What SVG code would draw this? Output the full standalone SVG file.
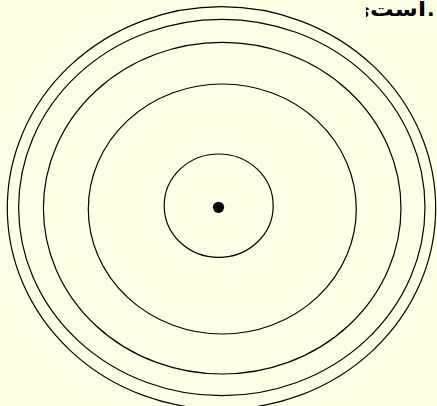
<svg xmlns="http://www.w3.org/2000/svg" width="437" height="406" viewBox="0 0 437 406">
  <style>
    .ring { fill: none; stroke: #000; stroke-width: 1.2; }
    .label { font-family: "DejaVu Sans", "Liberation Sans", sans-serif; font-weight: bold; font-size: 20px; fill: #000; }
  </style>
  <defs>
    <clipPath id="textClip">
      <rect x="366" y="0" width="71" height="30"/>
    </clipPath>
  </defs>
  <rect x="0" y="0" width="437" height="406" fill="#FFFFE6"/>
  <g id="text-top" clip-path="url(#textClip)">
    <text class="label" x="370" y="16" text-anchor="end">ی</text>
    <text class="label" x="370" y="16" textLength="56" lengthAdjust="spacingAndGlyphs">است</text>
    <text class="label" x="427" y="16">.</text>
  </g>
  <g id="rings">
    <ellipse id="ring5" class="ring" cx="221.5" cy="208" rx="214.2" ry="201.3"/>
    <ellipse id="ring4" class="ring" cx="221.8" cy="207.5" rx="203.2" ry="188.2"/>
    <ellipse id="ring3" class="ring" cx="222.2" cy="208.2" rx="178.8" ry="165.8"/>
    <ellipse id="ring2" class="ring" cx="222.3" cy="209" rx="134" ry="125"/>
    <ellipse id="ring1" class="ring" cx="218.7" cy="205.7" rx="54.5" ry="51.7" stroke-width="1.4"/>
  </g>
  <g id="nucleus">
    <circle cx="218.5" cy="207.3" r="5.6" fill="#000"/>
  </g>
</svg>
